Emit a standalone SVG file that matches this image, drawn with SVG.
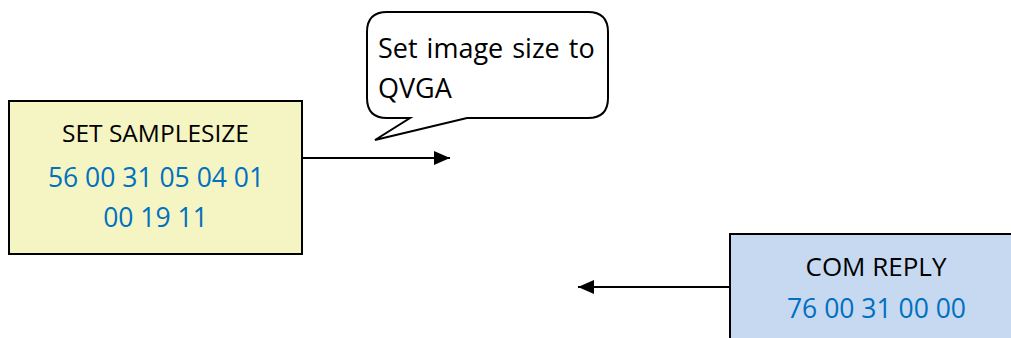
<svg xmlns="http://www.w3.org/2000/svg" width="1011" height="338" viewBox="0 0 1011 338">
  <defs>
    <style>
      .box { stroke: #000; stroke-width: 2; }
      .lbl { font-family: "Open Sans", "Noto Sans", sans-serif; fill: #000; text-anchor: middle; }
      .hex { font-family: "Open Sans", "Noto Sans", sans-serif; fill: #0070C0; text-anchor: middle; font-size: 26.5px; }
      .conn { stroke: #000; stroke-width: 2; fill: none; }
    </style>
    <marker id="arrow" viewBox="0 0 16 14" refX="16" refY="7" markerWidth="16" markerHeight="14" markerUnits="userSpaceOnUse" orient="auto">
      <path d="M0,0 L16,7 L0,14 Z" fill="#000"/>
    </marker>
  </defs>
  <rect width="1011" height="338" fill="#fff"/>

  <g id="node-set-samplesize">
    <rect class="box" x="9" y="101" width="293" height="153" fill="#F5F5C4"/>
    <text class="lbl" x="155.5" y="142" font-size="24.5px">SET SAMPLESIZE</text>
    <text class="hex" x="156" y="186.5">56 00 31 05 04 01</text>
    <text class="hex" x="155.5" y="227">00 19 11</text>
  </g>

  <g id="node-callout">
    <path d="M387,12 L588,12 Q608,12 608,32 L608,98 Q608,118 588,118 L467,118 L375,140 L410,118 L387,118 Q367,118 367,98 L367,32 Q367,12 387,12 Z" fill="#fff" stroke="#000" stroke-width="2" stroke-linejoin="miter"/>
    <text x="378" y="58" font-family="Open Sans, Noto Sans, sans-serif" font-size="27px" fill="#000" word-spacing="2">Set image size to</text>
    <text x="378" y="97.5" font-family="Open Sans, Noto Sans, sans-serif" font-size="27px" fill="#000">QVGA</text>
  </g>

  <g id="node-com-reply">
    <rect class="box" x="730" y="234" width="300" height="160" fill="#C6D9F1"/>
    <text class="lbl" x="876" y="276" font-size="26px">COM REPLY</text>
    <text class="hex" x="876.5" y="318">76 00 31 00 00</text>
  </g>

  <g id="connectors">
    <line class="conn" x1="302" y1="158" x2="450" y2="158" marker-end="url(#arrow)"/>
    <line class="conn" x1="730" y1="287" x2="578" y2="287" marker-end="url(#arrow)"/>
  </g>
</svg>
